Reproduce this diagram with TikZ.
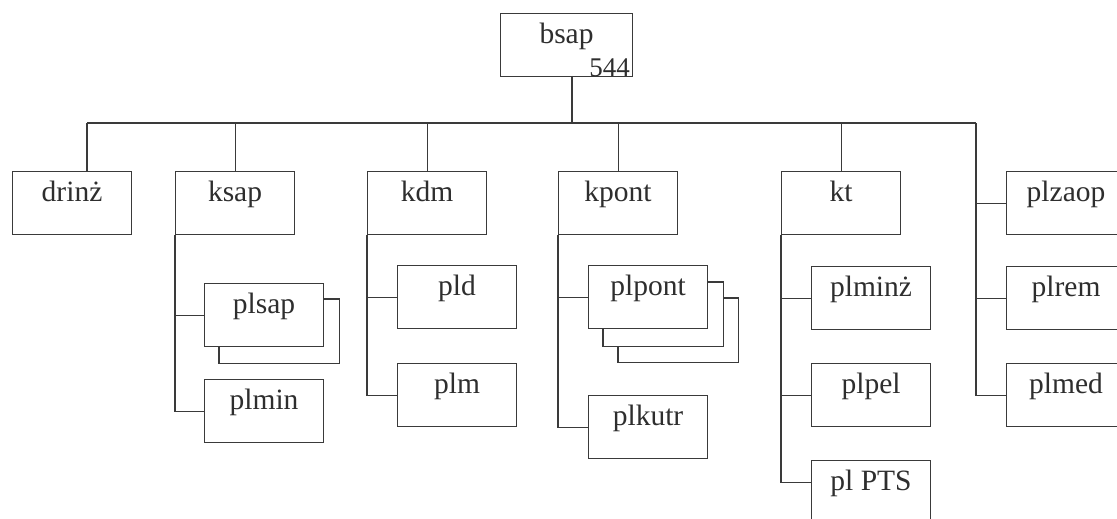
\documentclass[tikz,border=0pt]{standalone}
\usepackage{fontspec}
\setmainfont{Liberation Serif}
\usetikzlibrary{backgrounds}
\definecolor{linec}{HTML}{3A3A3A}
\definecolor{txtc}{HTML}{2E2E2E}
\tikzset{
  orgbox/.style={draw=linec, fill=white, line width=1.1pt, inner sep=0pt,
    minimum width=119pt, text height=30pt, text depth=33pt, anchor=north west,
    text=txtc, font=\fontsize{29.5}{31}\selectfont},
  shadowbox/.style={draw=linec, fill=white, line width=1.1pt},
  conn/.style={draw=linec, line width=1.1pt}
}
\begin{document}
\begin{tikzpicture}[x=1pt,y=1pt]
\useasboundingbox (0,0) rectangle (1117,-519);
\clip (0,0) rectangle (1117,-519);
% root
\node[orgbox, minimum width=132pt] (bsap) at (500,-13) {bsap};
\node[anchor=base east, inner sep=0pt, text=txtc, font=\fontsize{27}{28}\selectfont] (num) at ([xshift=-3pt,yshift=1pt]bsap.south east) {544};
% level 1
\node[orgbox] (drinz) at (12,-171) {drinż};
\node[orgbox] (ksap) at (175,-171) {ksap};
\node[orgbox] (kdm) at (367,-171) {kdm};
\node[orgbox] (kpont) at (558,-171) {kpont};
\node[orgbox] (kt) at (781,-171) {kt};
\node[orgbox] (plzaop) at (1006,-171) {plzaop};
% ksap children
\node[orgbox] (plsap) at (204,-283) {plsap};
\node[orgbox] (plmin) at (204,-379) {plmin};
% kdm children
\node[orgbox] (pld) at (397,-265) {pld};
\node[orgbox] (plm) at (397,-363) {plm};
% kpont children
\node[orgbox] (plpont) at (588,-265) {plpont};
\node[orgbox] (plkutr) at (588,-395) {plkutr};
% kt children
\node[orgbox] (plminz) at (811,-266) {plminż};
\node[orgbox] (plpel) at (811,-363) {plpel};
\node[orgbox] (plpts) at (811,-460) {pl PTS};
% right column
\node[orgbox] (plrem) at (1006,-266) {plrem};
\node[orgbox] (plmed) at (1006,-363) {plmed};
% shadows (stacked boxes)
\begin{scope}[on background layer]
\fill[white] (0,0) rectangle (1117,-519);
\draw[shadowbox] ([shift={(15,-16)}]plsap.north west) rectangle ([shift={(15,-16)}]plsap.south east);
\draw[shadowbox] ([shift={(30,-33)}]plpont.north west) rectangle ([shift={(30,-33)}]plpont.south east);
\draw[shadowbox] ([shift={(15,-17)}]plpont.north west) rectangle ([shift={(15,-17)}]plpont.south east);
\end{scope}
% bus
\coordinate (root) at (572,-76);
\coordinate (busL) at (87,-123);
\coordinate (busR) at (976,-123);
\draw[conn] (root) -- (root |- busL);
\draw[conn] (busL) -- (busR);
\draw[conn] (busL) -- (busL |- drinz.north);
\draw[conn] (ksap.north) -- (ksap.north |- busL);
\draw[conn] (kdm.north) -- (kdm.north |- busL);
\draw[conn] (kpont.north) -- (kpont.north |- busL);
\draw[conn] (kt.north) -- (kt.north |- busL);
% right column
\draw[conn] (busR) |- (plzaop.west);
\draw[conn] (busR |- plzaop.west) |- (plrem.west);
\draw[conn] (busR |- plrem.west) |- (plmed.west);
% ksap branch
\draw[conn] (ksap.south west) |- (plsap.west);
\draw[conn] (ksap.south west |- plsap.west) |- (plmin.west);
% kdm branch
\draw[conn] (kdm.south west) |- (pld.west);
\draw[conn] (kdm.south west |- pld.west) |- (plm.west);
% kpont branch
\draw[conn] (kpont.south west) |- (plpont.west);
\draw[conn] (kpont.south west |- plpont.west) |- (plkutr.west);
% kt branch
\draw[conn] (kt.south west) |- (plminz.west);
\draw[conn] (kt.south west |- plminz.west) |- (plpel.west);
\draw[conn] (kt.south west |- plpel.west) |- ([yshift=10pt]plpts.west);
\end{tikzpicture}
\end{document}
